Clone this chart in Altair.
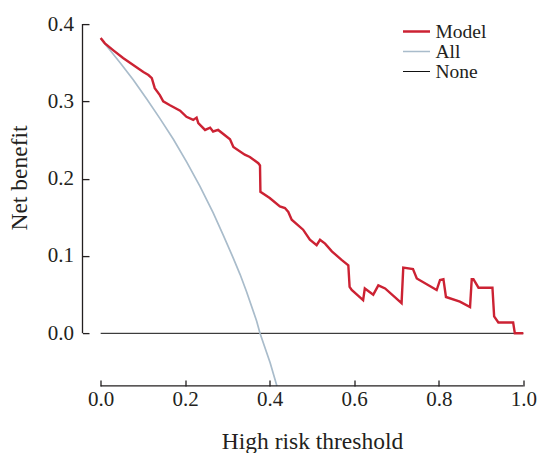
import altair as alt
import pandas as pd

# Decision curve: net benefit of the model, treat-all and treat-none strategies
threshold_model = [
    0.000, 0.010, 0.030, 0.053, 0.077, 0.101, 0.113, 0.121, 0.128, 0.140,
    0.148, 0.164, 0.188, 0.203, 0.219, 0.227, 0.231, 0.247, 0.259, 0.266,
    0.278, 0.306, 0.314, 0.341, 0.353, 0.373, 0.377, 0.378, 0.400, 0.424,
    0.436, 0.444, 0.452, 0.479, 0.495, 0.511, 0.519, 0.531, 0.547, 0.570,
    0.586, 0.589, 0.594, 0.621, 0.625, 0.645, 0.657, 0.673, 0.712, 0.716,
    0.739, 0.748, 0.795, 0.803, 0.811, 0.817, 0.850, 0.874, 0.878, 0.882,
    0.894, 0.927, 0.931, 0.941, 0.976, 0.980, 1.000,
]
net_benefit_model = [
    0.382, 0.375, 0.366, 0.356, 0.347, 0.338, 0.334, 0.330, 0.317, 0.308,
    0.300, 0.295, 0.288, 0.280, 0.276, 0.279, 0.272, 0.263, 0.266, 0.261,
    0.263, 0.251, 0.241, 0.231, 0.228, 0.220, 0.217, 0.183, 0.175, 0.164,
    0.162, 0.157, 0.147, 0.134, 0.121, 0.114, 0.121, 0.116, 0.106, 0.095,
    0.088, 0.060, 0.056, 0.043, 0.058, 0.050, 0.062, 0.058, 0.039, 0.085,
    0.083, 0.071, 0.056, 0.069, 0.070, 0.047, 0.041, 0.034, 0.070, 0.070,
    0.059, 0.059, 0.022, 0.014, 0.014, 0.000, 0.000,
]

threshold_all = [0.000, 0.018, 0.046, 0.077, 0.109, 0.140, 0.172, 0.204,
                 0.235, 0.266, 0.290, 0.314, 0.330, 0.345, 0.369, 0.377,
                 0.401, 0.417]
net_benefit_all = [0.381, 0.369, 0.350, 0.328, 0.303, 0.278, 0.251, 0.221,
                   0.190, 0.156, 0.127, 0.097, 0.076, 0.054, 0.016, 0.000,
                   -0.038, -0.068]

threshold_none = [0.0, 1.0]
net_benefit_none = [0.0, 0.0]

series_names = ["Model", "All", "None"]
series_colors = ["#cc2233", "#a9bccb", "#111111"]
series_widths = [2.4, 1.0, 1.4]

x_ticks = [0.0, 0.2, 0.4, 0.6, 0.8, 1.0]
y_ticks = [0.0, 0.1, 0.2, 0.3, 0.4]
x_domain = [-0.043, 1.04]
y_domain = [-0.068, 0.418]

SERIF = "Liberation Serif"
INK = "#231f20"

frames = []
for name, xs, ys in [("None", threshold_none, net_benefit_none),
                     ("All", threshold_all, net_benefit_all),
                     ("Model", threshold_model, net_benefit_model)]:
    frames.append(pd.DataFrame({"threshold": xs, "benefit": ys, "series": name}))
curves = pd.concat(frames, ignore_index=True)

x_axis = alt.Axis(
    values=x_ticks, format=".1f", domain=False, grid=False,
    tickSize=6, offset=-6, tickColor=INK, tickWidth=1.3,
    labelFont=SERIF, labelFontSize=21, labelColor=INK, labelPadding=3,
    labelFlush=False, labelOverlap=False,
    title="High risk threshold", titleFont=SERIF, titleFontSize=23.5,
    titleFontWeight="normal", titleColor=INK,
    titleX=229.5, titleY=68.6, titleAlign="center", titleBaseline="alphabetic",
)
y_axis = alt.Axis(
    values=y_ticks, format=".1f", domain=False, grid=False,
    tickSize=6.5, offset=-6.5, tickColor=INK, tickWidth=1.3,
    labelFont=SERIF, labelFontSize=21, labelColor=INK, labelPadding=9,
    labelOverlap=False,
    title="Net benefit", titleFont=SERIF, titleFontSize=23.5,
    titleFontWeight="normal", titleColor=INK,
    titleX=-63, titleY=167.4, titleAngle=270, titleAlign="center",
    titleBaseline="alphabetic",
)

x_enc = alt.X("threshold:Q", scale=alt.Scale(domain=x_domain, nice=False, zero=False), axis=x_axis)
y_enc = alt.Y("benefit:Q", scale=alt.Scale(domain=y_domain, nice=False, zero=False), axis=y_axis)

color_enc = alt.Color(
    "series:N",
    scale=alt.Scale(domain=series_names, range=series_colors),
    legend=alt.Legend(
        title=None, orient="none", legendX=319.0, legendY=11.9,
        symbolType="stroke", symbolSize=729, padding=0,
        labelFont=SERIF, labelFontSize=19.5, labelColor=INK,
        labelOffset=4, rowPadding=0, clipHeight=19,
    ),
)
width_enc = alt.StrokeWidth(
    "series:N",
    scale=alt.Scale(domain=series_names, range=series_widths),
)

base = alt.Chart(curves)
layers = []
for name in ["None", "All", "Model"]:
    layers.append(
        base.transform_filter(alt.datum.series == name)
        .mark_line(interpolate="linear")
        .encode(x=x_enc, y=y_enc, color=color_enc, strokeWidth=width_enc)
    )

# Axis lines spanning only the first to last tick
x_line = alt.Chart(pd.DataFrame({"x0": [x_ticks[0]], "x1": [x_ticks[-1]], "y": [y_domain[0]]})).mark_rule(
    color=INK, strokeWidth=1.3
).encode(x="x0:Q", x2="x1:Q", y="y:Q")
y_line = alt.Chart(pd.DataFrame({"y0": [y_ticks[0]], "y1": [y_ticks[-1]], "x": [x_domain[0]]})).mark_rule(
    color=INK, strokeWidth=1.3
).encode(y="y0:Q", y2="y1:Q", x="x:Q")

chart = (
    alt.layer(*layers, x_line, y_line)
    .properties(
        width=457.7, height=375.8,
        autosize=alt.AutoSizeParams(type="none"),
        padding={"left": 82.5, "top": 10.1, "right": 1.8, "bottom": 67.1},
        background="white",
    )
    .configure_view(stroke=None)
)

chart.save("out.html", embed_options={"renderer": "svg", "actions": False})
